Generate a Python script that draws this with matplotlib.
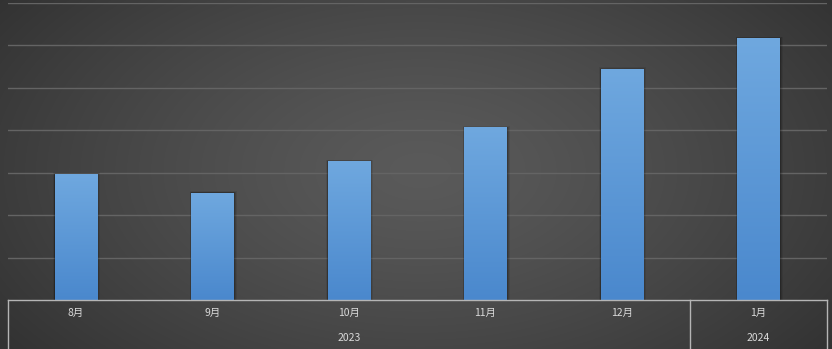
import numpy as np
import matplotlib
matplotlib.use("Agg")
import matplotlib.pyplot as plt
from matplotlib.colors import LinearSegmentedColormap
from matplotlib.patches import Rectangle
from matplotlib.transforms import blended_transform_factory

plt.rcParams['font.family'] = ['Noto Sans CJK SC', 'DejaVu Sans']

months = ["8月", "9月", "10月", "11月", "12月", "1月"]
values = [148, 126, 163, 203, 272, 308]
years = ["2023", "2024"]
year_spans = [(0, 4), (5, 5)]  # first/last month index under each year

W, H, DPI = 832, 349, 100
fig = plt.figure(figsize=(W / DPI, H / DPI), dpi=DPI)

# radial dark-grey backdrop
bg = fig.add_axes([0, 0, 1, 1])
yy, xx = np.mgrid[0:H, 0:W]
r = np.sqrt(((xx - 420) / 520.0) ** 2 + ((yy - 170) / 300.0) ** 2)
r = np.clip(r, 0, 1)
c_in, c_out = 0x5a / 255, 0x32 / 255
shade = c_in + (c_out - c_in) * r ** 1.3
bg.imshow(np.dstack([shade] * 3), extent=[0, W, H, 0], aspect="auto")
bg.set_axis_off()

left, right, top, axis_y = 7.75, 826.75, 3, 300
ax = fig.add_axes([left / W, (H - axis_y) / H, (right - left) / W, (axis_y - top) / H])
ax.patch.set_alpha(0)
for s in ax.spines.values():
    s.set_visible(False)
ax.set_xlim(-0.5, len(months) - 0.5)
ax.set_ylim(0, 350)
ax.set_xticks([])
ax.set_yticks([])

for g in np.arange(50, 351, 50):
    ax.axhline(g, color="#646464", lw=1.0, zorder=1)

bar_cmap = LinearSegmentedColormap.from_list("bar", ["#4a88cd", "#6fa8df"])
grad = np.linspace(0, 1, 256).reshape(-1, 1)
bw = 0.315
px_x = (len(months)) / (right - left)   # data units per pixel, x
px_y = 350 / (axis_y - top)              # data units per pixel, y
for i, v in enumerate(values):
    # soft shadow around the bar
    for k, a in [(2.5, 0.08), (1.5, 0.12), (0.8, 0.18)]:
        ax.add_patch(Rectangle((i - bw / 2 - k * px_x * 0.6, 0), bw + k * px_x * 1.8,
                               v + k * px_y * 0.8, color="black", alpha=a, lw=0, zorder=2))
    ax.imshow(grad, cmap=bar_cmap, origin="lower", aspect="auto",
              extent=[i - bw / 2, i + bw / 2, 0, v], zorder=3, interpolation="bilinear")
ax.set_xlim(-0.5, len(months) - 0.5)
ax.set_ylim(0, 350)

# two-level category axis
tr = blended_transform_factory(ax.transData, ax.transAxes)
frame_c = "#b5b5b5"
bottom_frac = -(H - axis_y) / (axis_y - top)
ax.plot([-0.5, len(months) - 0.5], [0, 0], transform=tr, color=frame_c, lw=1.0, clip_on=False, zorder=5)
for xb in [-0.5, year_spans[0][1] + 0.5, len(months) - 0.5]:
    ax.plot([xb, xb], [0, bottom_frac], transform=tr, color=frame_c, lw=1.0, clip_on=False, zorder=5)

month_y = -(313 - axis_y) / (axis_y - top)
year_y = -(338 - axis_y) / (axis_y - top)
for i, m in enumerate(months):
    ax.text(i, month_y, m, transform=tr, ha="center", va="center", color="#d9d9d9", fontsize=7.5)
for yl, (a, b) in zip(years, year_spans):
    ax.text((a + b) / 2, year_y, yl, transform=tr, ha="center", va="center", color="#d9d9d9", fontsize=7.5)

fig.savefig("out.png", dpi=DPI)
